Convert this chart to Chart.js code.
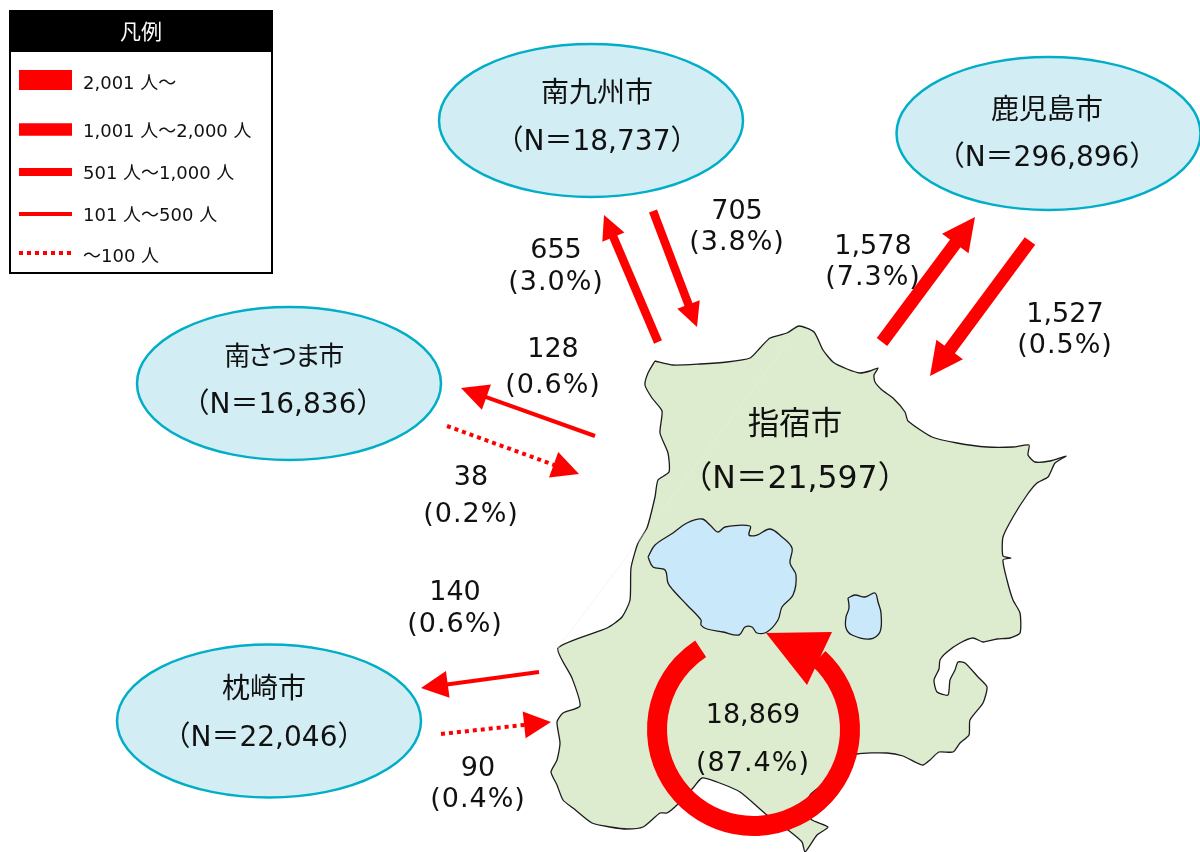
<!DOCTYPE html>
<html>
<head>
<meta charset="utf-8">
<title>指宿市 流動</title>
<script src="https://cdn.jsdelivr.net/npm/chart.js@4"></script>
<style>
    html, body { margin: 0; padding: 0; background: #fff; }
    canvas { display: block; }
</style>
</head>
<body>
<canvas id="myChart" width="1200" height="852"></canvas>
<script>
// values
const cityNames = ['南九州市', '鹿児島市', '南さつま市', '枕崎市'];
const cityPop = [18737, 296896, 16836, 22046];
const outCounts = [655, 1578, 128, 140];
const outShares = [3.0, 7.3, 0.6, 0.6];
const inCounts = [705, 1527, 38, 90];
const inShares = [3.8, 0.5, 0.2, 0.4];
const homeName = '指宿市';
const homePop = 21597;
const stayCount = 18869;
const stayShare = 87.4;
const legendTitle = '凡例';
const legendLabels = ['2,001 人～', '1,001 人～2,000 人', '501 人～1,000 人', '101 人～500 人', '～100 人'];
const classFloors = [2001, 1001, 501, 101, 0];

// geometry, in picture pixels
const mapOutline = [[655,361],[673,365],[700,364],[727,362],[750,358],[760,348],[770,338],[787,333],[799,326],[814,332],[823,350],[833,362],[847,369],[860,373],[870,371],[878,368],[874,375],[875,382],[882,390],[893,398],[905,412],[908,421],[932,437],[957,443],[987,447],[1013,447],[1029,445],[1028,455],[1035,462],[1050,461],[1066,456],[1055,463],[1048,477],[1037,483],[1027,495],[1013,517],[1003,537],[1003,556],[1011,558],[1003,560],[1007,580],[1013,600],[1020,613],[1020,633],[1010,638],[997,639],[983,642],[973,638],[960,643],[947,652],[940,660],[939,669],[934,680],[937,692],[948,695],[950,680],[955,670],[958,662],[965,663],[978,677],[987,687],[983,703],[970,720],[969,735],[960,743],[953,752],[939,752],[930,760],[923,765],[917,763],[903,756],[887,753],[857,754],[845,762],[830,777],[822,785],[810,795],[805,810],[812,820],[828,827],[817,835],[805,852],[802,842],[788,830],[767,815],[740,792],[717,782],[702,778],[693,788],[677,805],[667,813],[660,813],[643,827],[627,829],[610,827],[592,823],[573,808],[563,800],[557,785],[551,772],[557,760],[560,743],[557,722],[563,713],[580,706],[572,678],[558,648],[607,628],[622,617],[630,600],[631,568],[638,543],[647,528],[655,497],[658,480],[669,472],[668,453],[660,433],[662,411],[652,398],[645,385],[648,373],[655,361]];
const bigLake = [[648,557],[655,545],[673,533],[687,523],[702,519],[710,525],[718,532],[725,527],[750,526],[749,535],[757,535],[770,529],[782,537],[792,548],[790,563],[796,575],[793,595],[782,607],[778,620],[767,632],[757,633],[752,627],[745,627],[739,635],[723,632],[707,629],[701,625],[701,620],[687,605],[673,590],[668,583],[665,570],[653,567],[648,557]];
const smallLake = [[848,598],[855,595],[865,597],[875,593],[878,602],[881,613],[880,632],[870,639],[852,635],[846,628],[846,617],[849,608],[848,598]];
const faintLine = [[558,648],[790,340]];

const cityCentres = [[591,120.5],[1048.5,133.5],[289,383.5],[269,721]];
const cityRadii = [152, 76.5];
const cityLabelPos = [[597,95,143],[1047,112,159],[283,358,406],[264,691,739]];
const cityNameSizes = [28, 28, 26, 28];
const cityNameSpacing = [0, 0, -2.5, 0];
const homeLabelPos = [795,426,480];
const stayLabelPos = [753,716,764];
const outArrows = [[[658,342],[604,215]],[[882,342],[975,217]],[[595,436],[461,388]],[[539,672],[421,688]]];
const inArrows = [[[653,211],[697,327]],[[1030,241],[930,376]],[[447,426],[579,474]],[[441,734],[551,722]]];
const outLabelPos = [[556,251,283],[873,247,278],[553,350,386],[455,593,625]];
const inLabelPos = [[737,212,243],[1065,315,346],[471,478,515],[478,769,800]];

const ringCentre = [753.5,729.5];
const ringRadius = 96.5;
const ringStart = [819,658];
const ringEnd = [700.5,648.5];
const ringHead = [[766,633],[832,632],[807,685]];

const legendBox = [10,11,272,273];
const legendHeaderBottom = 52;
const legendSwatchX = [19,72];
const legendRows = [80,129.5,172,214,253];
const legendTextY = [84,132,174,216,257];
const legendTextX = 83;
// shaft width, head length, head width per class
const classWidths = [20,13,8.5,4,4];
const classHeads = [[40,40],[33,33],[24,24],[27,27],[27,27]];

const RED = '#ff0000';
const FONT = '"DejaVu Sans","Noto Sans CJK JP",sans-serif';

function fmt(n) { return n.toLocaleString('en-US'); }
function pts(list) { return list.map(p => ({ x: p[0], y: p[1] })); }
function classOf(n) { return classFloors.findIndex(f => n >= f); }

function shape(list, color, stroke, tension) {
    return {
        data: pts(list), showLine: true, fill: 'shape', backgroundColor: color,
        borderColor: stroke, borderWidth: stroke === color ? 0 : 1.3, tension: tension || 0, pointRadius: 0
    };
}
function stroke(list, color, width, dash) {
    return {
        data: pts(list), showLine: true, fill: false, borderColor: color,
        borderWidth: width, borderDash: dash || [], tension: 0, pointRadius: 0, borderCapStyle: 'butt'
    };
}
function arrowSets(arrow, count) {
    const c = classOf(count);
    const tail = arrow[0], tip = arrow[1];
    const dx = tip[0] - tail[0], dy = tip[1] - tail[1];
    const len = Math.hypot(dx, dy);
    const ux = dx / len, uy = dy / len;
    const hl = classHeads[c][0], hw = classHeads[c][1] / 2;
    const bx = tip[0] - ux * hl, by = tip[1] - uy * hl;
    const head = [[tip[0], tip[1]], [bx - uy * hw, by + ux * hw], [bx + uy * hw, by - ux * hw], [tip[0], tip[1]]];
    return [stroke([tail, [bx + ux, by + uy]], RED, classWidths[c], c === 4 ? [4, 4] : null), shape(head, RED, RED)];
}

// chart.js draws the first dataset on top, so this list runs top to bottom
const datasets = [];
legendRows.forEach((y, i) => {
    const w = i === 2 ? 8 : i === 1 ? 12.5 : classWidths[i];
    datasets.push(stroke([[legendSwatchX[0], y], [legendSwatchX[1], y]], RED, w, i === 4 ? [4, 4] : null));
});
inArrows.forEach((a, i) => datasets.push(...arrowSets(a, inCounts[i])));
outArrows.forEach((a, i) => datasets.push(...arrowSets(a, outCounts[i])));
datasets.push(
    shape(smallLake, '#c9e9fb', '#1c1c1c', 0.35),
    shape(bigLake, '#c9e9fb', '#1c1c1c', 0.35),
    stroke(faintLine, 'rgba(240,238,224,0.55)', 1),
    shape(mapOutline, '#ddebcf', '#1c1c1c', 0.2)
);

// ellipses and the legend frame sit under the marks
const underlay = {
    id: 'underlay',
    beforeDatasetsDraw(chart) {
        const { ctx, scales: { x, y } } = chart;
        ctx.save();
        cityCentres.forEach(c => {
            ctx.beginPath();
            ctx.ellipse(x.getPixelForValue(c[0]), y.getPixelForValue(c[1]), cityRadii[0], cityRadii[1], 0, 0, Math.PI * 2);
            ctx.fillStyle = '#d3edf4';
            ctx.fill();
            ctx.lineWidth = 2.5;
            ctx.strokeStyle = '#00aec7';
            ctx.stroke();
        });
        ctx.fillStyle = '#fff';
        ctx.strokeStyle = '#000';
        ctx.lineWidth = 2;
        const l = x.getPixelForValue(legendBox[0]), t = y.getPixelForValue(legendBox[1]);
        const w = x.getPixelForValue(legendBox[2]) - l, h = y.getPixelForValue(legendBox[3]) - t;
        ctx.fillRect(l, t, w, h);
        ctx.strokeRect(l, t, w, h);
        ctx.fillStyle = '#000';
        ctx.fillRect(l, t, w, y.getPixelForValue(legendHeaderBottom) - t);
        ctx.restore();
    }
};

// ring and all the text go over the marks
const overlay = {
    id: 'overlay',
    afterDatasetsDraw(chart) {
        const { ctx, scales: { x, y } } = chart;
        const px = v => x.getPixelForValue(v), py = v => y.getPixelForValue(v);
        ctx.save();
        const cx = px(ringCentre[0]), cy = py(ringCentre[1]);
        const a0 = Math.atan2(ringStart[1] - ringCentre[1], ringStart[0] - ringCentre[0]);
        const a1 = Math.atan2(ringEnd[1] - ringCentre[1], ringEnd[0] - ringCentre[0]);
        ctx.beginPath();
        ctx.arc(cx, cy, ringRadius, a0, a1);
        ctx.strokeStyle = RED;
        ctx.lineWidth = classWidths[0];
        ctx.stroke();
        ctx.beginPath();
        ringHead.forEach((p, i) => i ? ctx.lineTo(px(p[0]), py(p[1])) : ctx.moveTo(px(p[0]), py(p[1])));
        ctx.closePath();
        ctx.fillStyle = RED;
        ctx.fill();

        ctx.textBaseline = 'middle';
        ctx.textAlign = 'center';
        ctx.fillStyle = '#111';
        cityNames.forEach((name, i) => {
            const p = cityLabelPos[i];
            ctx.font = cityNameSizes[i] + 'px ' + FONT;
            ctx.letterSpacing = cityNameSpacing[i] + 'px';
            ctx.fillText(name, px(p[0]), py(p[1]));
            ctx.letterSpacing = '0px';
            ctx.font = '28px ' + FONT;
            ctx.fillText('（N＝' + fmt(cityPop[i]) + '）', px(p[0]), py(p[2]));
        });
        ctx.font = '27px ' + FONT;
        const flowText = (counts, shares, pos) => counts.forEach((n, i) => {
            const p = pos[i];
            ctx.fillText(fmt(n), px(p[0]), py(p[1]));
            ctx.letterSpacing = '1px';
            ctx.fillText('(' + shares[i].toFixed(1) + '%)', px(p[0]), py(p[2]));
            ctx.letterSpacing = '0px';
        });
        flowText(outCounts, outShares, outLabelPos);
        flowText(inCounts, inShares, inLabelPos);
        flowText([stayCount], [stayShare], [stayLabelPos]);
        ctx.font = '31.5px ' + FONT;
        ctx.fillText(homeName, px(homeLabelPos[0]), py(homeLabelPos[1]));
        ctx.fillText('（N＝' + fmt(homePop) + '）', px(homeLabelPos[0]), py(homeLabelPos[2]));

        ctx.fillStyle = '#fff';
        ctx.font = '21px ' + FONT;
        ctx.fillText(legendTitle, px((legendBox[0] + legendBox[2]) / 2), py(34));
        ctx.fillStyle = '#111';
        ctx.font = '18px ' + FONT;
        ctx.textAlign = 'left';
        legendLabels.forEach((t, i) => ctx.fillText(t, px(legendTextX), py(legendTextY[i])));
        ctx.restore();
    }
};

var ctx = document.getElementById('myChart').getContext('2d');
var myChart = new Chart(ctx, {
    type: 'scatter',
    data: { datasets: datasets },
    options: {
        responsive: false,
        animation: false,
        layout: { padding: 0 },
        clip: false,
        plugins: { legend: { display: false }, tooltip: { enabled: false } },
        scales: {
            x: { type: 'linear', min: 0, max: 1200, display: false },
            y: { type: 'linear', min: 0, max: 852, reverse: true, display: false }
        }
    },
    plugins: [underlay, overlay]
});
</script>
</body>
</html>
